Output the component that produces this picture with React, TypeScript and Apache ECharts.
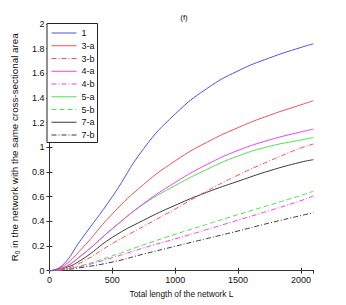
import React, { useEffect, useRef } from "react";
import * as echarts from "echarts";

const lengths = [0, 100, 250, 500, 750, 1000, 1250, 1500, 1750, 2000, 2100];
const seriesNames = ["1", "3-a", "3-b", "4-a", "4-b", "5-a", "5-b", "7-a", "7-b"];
const s1 = [0, 0.04, 0.25, 0.6, 0.99, 1.27, 1.475, 1.62, 1.725, 1.81, 1.84];
const s3a = [0, 0.03, 0.17, 0.46, 0.7, 0.89, 1.04, 1.16, 1.26, 1.345, 1.378];
const s3b = [0, 0.01, 0.065, 0.22, 0.36, 0.5, 0.645, 0.775, 0.89, 0.995, 1.027];
const s4a = [0, 0.02, 0.12, 0.34, 0.545, 0.715, 0.86, 0.975, 1.06, 1.125, 1.148];
const s4b = [0, 0.007, 0.035, 0.105, 0.185, 0.258, 0.333, 0.41, 0.487, 0.568, 0.606];
const s5a = [0, 0.02, 0.12, 0.34, 0.54, 0.69, 0.82, 0.93, 1.008, 1.06, 1.08];
const s5b = [0, 0.008, 0.04, 0.12, 0.21, 0.295, 0.375, 0.455, 0.532, 0.61, 0.645];
const s7a = [0, 0.015, 0.085, 0.27, 0.41, 0.53, 0.635, 0.725, 0.81, 0.88, 0.9];
const s7b = [0, 0.005, 0.025, 0.07, 0.135, 0.198, 0.26, 0.322, 0.387, 0.447, 0.47];
const seriesValues = [s1, s3a, s3b, s4a, s4b, s5a, s5b, s7a, s7b];

const colors = ["#4f4ff5", "#f55050", "#f55050", "#f040f0", "#f040f0", "#4ee04e", "#4ee04e", "#3a3a3a", "#3a3a3a"];
const dashDot = [5, 2, 1, 2];
const styles: any[] = ["solid", "solid", dashDot, "solid", dashDot, "solid", [5, 3], "solid", dashDot];

const FONT = "'Liberation Sans', Arial, Helvetica, sans-serif";

export default function App() {
  const ref = useRef<HTMLDivElement>(null);
  useEffect(() => {
    if (!ref.current) return;
    const chart = echarts.init(ref.current, null, { renderer: "svg" });
    const axisLineStyle = { color: "#333", width: 1 };
    const plain = (v: number) => String(v);
    const option: any = {
      animation: false,
      backgroundColor: "#fff",
      textStyle: { fontFamily: FONT },
      title: {
        text: "(f)",
        left: 179,
        top: 8,
        textAlign: "center",
        textStyle: { fontSize: 8, fontWeight: "normal", color: "#111", fontFamily: FONT },
      },
      grid: { left: 45.7, right: 32.5, top: 24, bottom: 34.3, containLabel: false },
      legend: {
        orient: "vertical",
        left: 47,
        top: 23.5,
        padding: [5, 3, 3, 4],
        itemWidth: 25,
        itemHeight: 10,
        itemGap: 3.75,
        borderColor: "#222",
        borderWidth: 1,
        backgroundColor: "#fff",
        itemStyle: { opacity: 0 },
        lineStyle: { width: 1 },
        data: seriesNames,
        textStyle: { fontSize: 9, color: "#111", fontFamily: FONT },
      },
      xAxis: [
        {
          type: "value",
          min: 0,
          max: 2100,
          interval: 500,
          name: "Total length of the network L",
          nameLocation: "middle",
          nameGap: 12,
          nameTextStyle: { fontSize: 8.3, color: "#111", fontFamily: FONT },
          axisLine: { show: true, lineStyle: axisLineStyle },
          axisTick: { show: true, inside: true, length: 3, lineStyle: axisLineStyle },
          axisLabel: { fontSize: 9, color: "#111", margin: 5, showMaxLabel: false, fontFamily: FONT, formatter: plain },
          splitLine: { show: false },
        },
        {
          type: "value",
          position: "top",
          min: 0,
          max: 2100,
          interval: 500,
          axisLine: { show: true, lineStyle: axisLineStyle },
          axisTick: { show: true, inside: true, length: 3, lineStyle: axisLineStyle },
          axisLabel: { show: false },
          splitLine: { show: false },
        },
      ],
      yAxis: [
        {
          type: "value",
          min: 0,
          max: 2,
          interval: 0.2,
          name: "{r|R}{s|0}{r| in the network with the same cross-sectional area}",
          nameLocation: "middle",
          nameGap: 20,
          nameTextStyle: {
            color: "#111",
            rich: {
              r: { fontSize: 9.8, color: "#111", fontFamily: FONT, lineHeight: 14 },
              s: { fontSize: 6.5, color: "#111", fontFamily: FONT, lineHeight: 14, padding: [6, 0, 0, 0] },
            },
          },
          axisLine: { show: true, lineStyle: axisLineStyle },
          axisTick: { show: true, inside: true, length: 3, lineStyle: axisLineStyle },
          axisLabel: { fontSize: 9, color: "#111", margin: 5, fontFamily: FONT, formatter: plain },
          splitLine: { show: false },
        },
        {
          type: "value",
          position: "right",
          min: 0,
          max: 2,
          interval: 0.2,
          axisLine: { show: true, lineStyle: axisLineStyle },
          axisTick: { show: true, inside: true, length: 3, lineStyle: axisLineStyle },
          axisLabel: { show: false },
          splitLine: { show: false },
        },
      ],
      series: seriesNames.map((name, i) => ({
        name,
        type: "line",
        xAxisIndex: 0,
        yAxisIndex: 0,
        data: lengths.map((x, j) => [x, seriesValues[i][j]]),
        smooth: 0.5,
        symbol: "none",
        showSymbol: false,
        color: colors[i],
        lineStyle: { color: colors[i], width: 1, type: styles[i] },
        itemStyle: { color: colors[i] },
        z: 10 - i,
      })),
    };
    chart.setOption(option);
    return () => chart.dispose();
  }, []);
  return (
    <div
      ref={ref}
      style={{ position: "fixed", left: 0, top: 0, width: 346, height: 305, background: "#fff" }}
    />
  );
}
